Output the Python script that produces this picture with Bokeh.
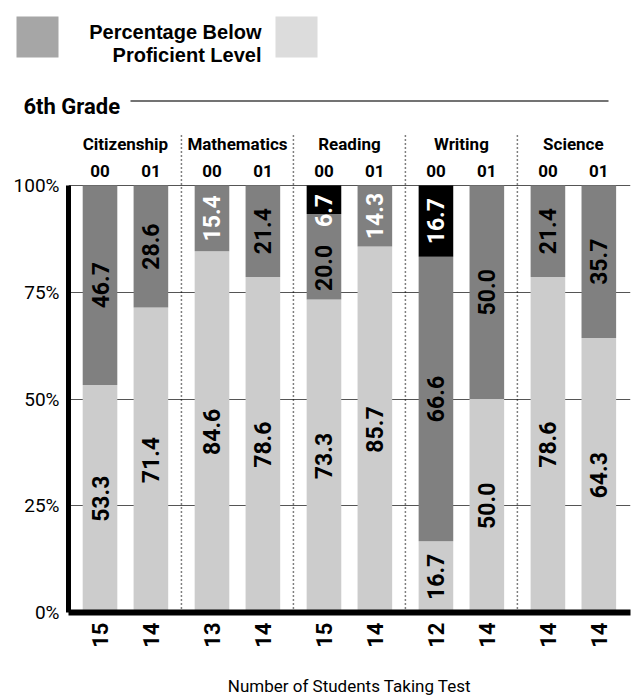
import math
from bokeh.plotting import figure
from bokeh.models import Range1d, FixedTicker, ColumnDataSource
from bokeh.core.properties import value
from bokeh.embed import file_html
from bokeh.resources import INLINE

# ---------------- data ----------------
subjects = ["Citizenship", "Mathematics", "Reading", "Writing", "Science"]
years = ["00", "01"]
students = [15, 14, 13, 14, 15, 14, 12, 14, 14, 14]
at_or_above = [53.3, 71.4, 84.6, 78.6, 73.3, 85.7, 16.7, 50.0, 78.6, 64.3]
below = [46.7, 28.6, 15.4, 21.4, 20.0, 14.3, 66.6, 50.0, 21.4, 35.7]
black_top = [0, 0, 0, 0, 6.7, 0, 16.7, 0, 0, 0]
y_ticks = [0, 25, 50, 75, 100]
y_tick_labels = ["0%", "25%", "50%", "75%", "100%"]
legend_text = ["Percentage Below", "Proficient Level"]
section_title = "6th Grade"

# ---------------- styling ----------------
COND = "Roboto"
SANS = "Liberation Sans"
LIGHT = "#cccccc"
DARK = "#808080"
below_text_colors = ["black", "black", "white", "black", "black",
                     "white", "black", "black", "black", "black"]
label_nudge_below = {4: -2.6}
label_nudge_black = {4: -2.5}

W, H = 639, 698
PX_PER_PCT = 4.27
PX_PER_X = 50.9
GROUP_STEP = 2.2
BAR_W = 0.68
FRAME_LEFT, FRAME_RIGHT = 68, 630
FRAME_BOTTOM = 612

X0 = -(99.5 - FRAME_LEFT) / PX_PER_X
X1 = X0 + (FRAME_RIGHT - FRAME_LEFT) / PX_PER_X
Y1 = FRAME_BOTTOM / PX_PER_PCT


def px(page_x):  # layout pixel -> data x
    return X0 + (page_x - FRAME_LEFT) / PX_PER_X


def py(page_y):  # layout pixel -> data y
    return (FRAME_BOTTOM - page_y) / PX_PER_PCT


xs = [round(g * GROUP_STEP + j, 2) for g in range(len(subjects)) for j in range(len(years))]
year_labels = [years[j] for g in range(len(subjects)) for j in range(len(years))]
group_centers = [round(g * GROUP_STEP + 0.5, 2) for g in range(len(subjects))]
dividers = [round(g * GROUP_STEP + 1.6, 2) for g in range(len(subjects) - 1)]

p = figure(width=W, height=H, x_range=Range1d(X0, X1), y_range=Range1d(0, Y1),
           output_backend="svg", toolbar_location=None,
           min_border_left=FRAME_LEFT, min_border_right=W - FRAME_RIGHT, min_border_top=0,
           min_border_bottom=H - FRAME_BOTTOM)
p.outline_line_color = None
p.xgrid.visible = False
p.ygrid.ticker = FixedTicker(ticks=[t for t in y_ticks if t > 0])
p.ygrid.grid_line_color = "#555555"
p.ygrid.grid_line_width = 1

# ---------------- header (legend + section title), drawn unclipped ----------------
r = p.quad(left=[px(16), px(275)], right=[px(58), px(317)], top=[py(16)] * 2, bottom=[py(57)] * 2,
           fill_color=["#a6a6a6", "#dcdcdc"], line_color=None)
r.level = "annotation"
r = p.text(x=[px(261)] * 2, y=[py(31), py(54)], text=legend_text, text_align="right",
           text_baseline="alphabetic", text_font=value(SANS), text_font_size="20px",
           text_font_style="bold", text_color="black")
r.level = "annotation"
r = p.text(x=[px(23)], y=[py(105.5)], text=[section_title], text_align="left",
           text_baseline="alphabetic", text_font=value(COND), text_font_size="22px",
           text_font_style="bold", text_color="black")
r.level = "annotation"
p.segment(x0=[px(130)], x1=[px(608)], y0=[py(100.5)], y1=[py(100.5)],
          line_color="#444444", line_width=1.5)

# ---------------- bars ----------------
tops_dark = [a + b for a, b in zip(at_or_above, below)]
src = ColumnDataSource(dict(x=xs, light=at_or_above, dark_top=tops_dark,
                            black_top=[t + k for t, k in zip(tops_dark, black_top)]))
p.vbar(x="x", bottom=0, top="light", width=BAR_W, source=src, fill_color=LIGHT, line_color=None)
p.vbar(x="x", bottom="light", top="dark_top", width=BAR_W, source=src, fill_color=DARK, line_color=None)
p.vbar(x="x", bottom="dark_top", top="black_top", width=BAR_W, source=src, fill_color="black", line_color=None)

# dotted dividers
p.segment(x0=dividers, x1=dividers, y0=[0] * len(dividers), y1=[py(135)] * len(dividers),
          line_color="black", line_width=1.5, line_dash="1 3")

# value labels
lab_light = ColumnDataSource(dict(x=xs, y=[a / 2 for a in at_or_above],
                                  t=["%.1f" % v for v in at_or_above]))
p.text(x="x", y="y", text="t", source=lab_light, angle=math.pi / 2, text_align="center",
       text_baseline="middle", text_font=value(COND), text_font_size="23px",
       text_font_style="bold", text_color="black")
lab_dark = ColumnDataSource(dict(
    x=xs,
    y=[a + b / 2 + label_nudge_below.get(i, 0) for i, (a, b) in enumerate(zip(at_or_above, below))],
    t=["%.1f" % v for v in below], c=below_text_colors))
p.text(x="x", y="y", text="t", source=lab_dark, angle=math.pi / 2, text_align="center",
       text_baseline="middle", text_font=value(COND), text_font_size="23px",
       text_font_style="bold", text_color="c")
bi = [i for i, k in enumerate(black_top) if k > 0]
lab_black = ColumnDataSource(dict(
    x=[xs[i] for i in bi],
    y=[tops_dark[i] + black_top[i] / 2 + label_nudge_black.get(i, 0) for i in bi],
    t=["%.1f" % black_top[i] for i in bi]))
p.text(x="x", y="y", text="t", source=lab_black, angle=math.pi / 2, text_align="center",
       text_baseline="middle", text_font=value(COND), text_font_size="23px",
       text_font_style="bold", text_color="white")

# column headers
p.text(x=group_centers, y=[py(143)] * len(group_centers), text=subjects, text_align="center",
       text_baseline="middle", text_font=value(COND), text_font_size="17px",
       text_font_style="bold", text_color="black")
p.text(x=xs, y=[py(170.5)] * len(xs), text=year_labels, text_align="center",
       text_baseline="middle", text_font=value(COND), text_font_size="17px",
       text_font_style="bold", text_color="black")

# ---------------- y axis ----------------
ya = p.yaxis[0]
ya.ticker = FixedTicker(ticks=y_ticks)
ya.major_label_overrides = {t: s for t, s in zip(y_ticks, y_tick_labels)}
ya.bounds = (y_ticks[0], y_ticks[-1])
ya.axis_line_width = 5
ya.axis_line_color = "black"
ya.major_tick_line_color = None
ya.minor_tick_line_color = None
ya.major_tick_out = 0
ya.major_tick_in = 0
ya.major_label_standoff = 9
ya.major_label_text_font = COND
ya.major_label_text_font_size = "19px"
ya.major_label_text_color = "black"

# ---------------- x axis with student counts ----------------
xa = p.xaxis[0]
xa.ticker = FixedTicker(ticks=xs)
xa.major_label_overrides = {x: str(n) for x, n in zip(xs, students)}
xa.axis_line_width = 6
xa.axis_line_color = "black"
xa.major_tick_line_color = None
xa.minor_tick_line_color = None
xa.major_tick_out = 0
xa.major_tick_in = 0
xa.major_label_orientation = math.pi / 2
xa.major_label_standoff = 10
xa.major_label_text_font = COND
xa.major_label_text_font_size = "22px"
xa.major_label_text_font_style = "bold"
xa.major_label_text_color = "black"
xa.axis_label = "Number of Students Taking Test"
xa.axis_label_text_font = COND
xa.axis_label_text_font_size = "17px"
xa.axis_label_text_font_style = "normal"
xa.axis_label_text_color = "black"
xa.axis_label_standoff = 25

open("out.html", "w").write(file_html(p, INLINE))
